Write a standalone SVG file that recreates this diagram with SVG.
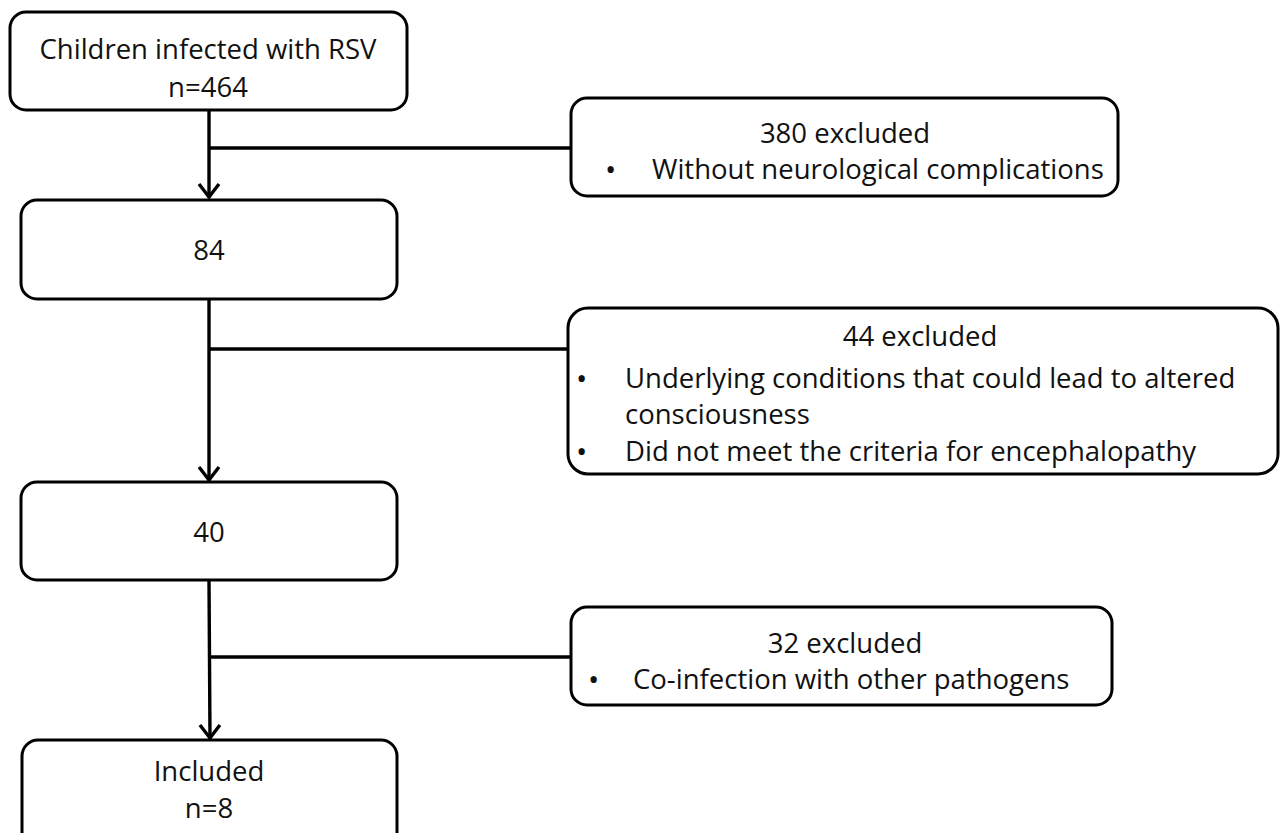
<svg xmlns="http://www.w3.org/2000/svg" width="1280" height="833" viewBox="0 0 1280 833">
<defs>
<marker id="arr" viewBox="0 0 20 24" refX="18" refY="12" markerWidth="20" markerHeight="24" markerUnits="userSpaceOnUse" orient="auto">
<path d="M4,2 L17,12 L4,22" fill="none" stroke="#000" stroke-width="3.4"/>
</marker>
<style>
.box{fill:#fff;stroke:#000;stroke-width:3}
.ln{fill:none;stroke:#000;stroke-width:3.4}
text{font-family:"Open Sans","Liberation Sans",sans-serif;font-size:27.5px;fill:#111}
.c{text-anchor:middle}
.b{font-size:30px}
</style>
</defs>
<rect width="1280" height="833" fill="#fff"/>
<g id="connectors">
<line class="ln" x1="209" y1="110" x2="209" y2="198" marker-end="url(#arr)"/>
<line class="ln" x1="209" y1="148" x2="571" y2="148"/>
<line class="ln" x1="209" y1="299" x2="209" y2="481" marker-end="url(#arr)"/>
<line class="ln" x1="209" y1="349" x2="568" y2="349"/>
<line class="ln" x1="209" y1="580" x2="210" y2="739" marker-end="url(#arr)"/>
<line class="ln" x1="209" y1="657" x2="571" y2="657"/>
</g>
<g id="n1">
<rect class="box" x="10" y="12" width="397" height="98" rx="16"/>
<text class="c" x="208" y="59">Children infected with RSV</text>
<text class="c" x="208" y="97">n=464</text>
</g>
<g id="n2">
<rect class="box" x="21" y="200" width="376" height="99" rx="16"/>
<text class="c" x="209" y="260">84</text>
</g>
<g id="n3">
<rect class="box" x="21" y="482" width="376" height="98" rx="16"/>
<text class="c" x="209" y="542">40</text>
</g>
<g id="n4">
<rect class="box" x="22" y="740" width="375" height="110" rx="16"/>
<text class="c" x="209" y="781">Included</text>
<text class="c" x="209" y="818">n=8</text>
</g>
<g id="e1">
<rect class="box" x="571" y="98" width="547" height="98" rx="16"/>
<text class="c" x="845" y="143">380 excluded</text>
<text class="b" x="605" y="180">•</text>
<text x="652" y="179">Without neurological complications</text>
</g>
<g id="e2">
<rect class="box" x="568" y="308" width="710" height="166" rx="20"/>
<text class="c" x="920" y="346">44 excluded</text>
<text class="b" x="576" y="389">•</text>
<text x="625" y="388">Underlying conditions that could lead to altered</text>
<text x="625" y="424">consciousness</text>
<text class="b" x="576" y="462">•</text>
<text x="625" y="461">Did not meet the criteria for encephalopathy</text>
</g>
<g id="e3">
<rect class="box" x="571" y="607" width="541" height="98" rx="16"/>
<text class="c" x="845" y="653">32 excluded</text>
<text class="b" x="588" y="690">•</text>
<text x="633" y="689">Co-infection with other pathogens</text>
</g>
</svg>
